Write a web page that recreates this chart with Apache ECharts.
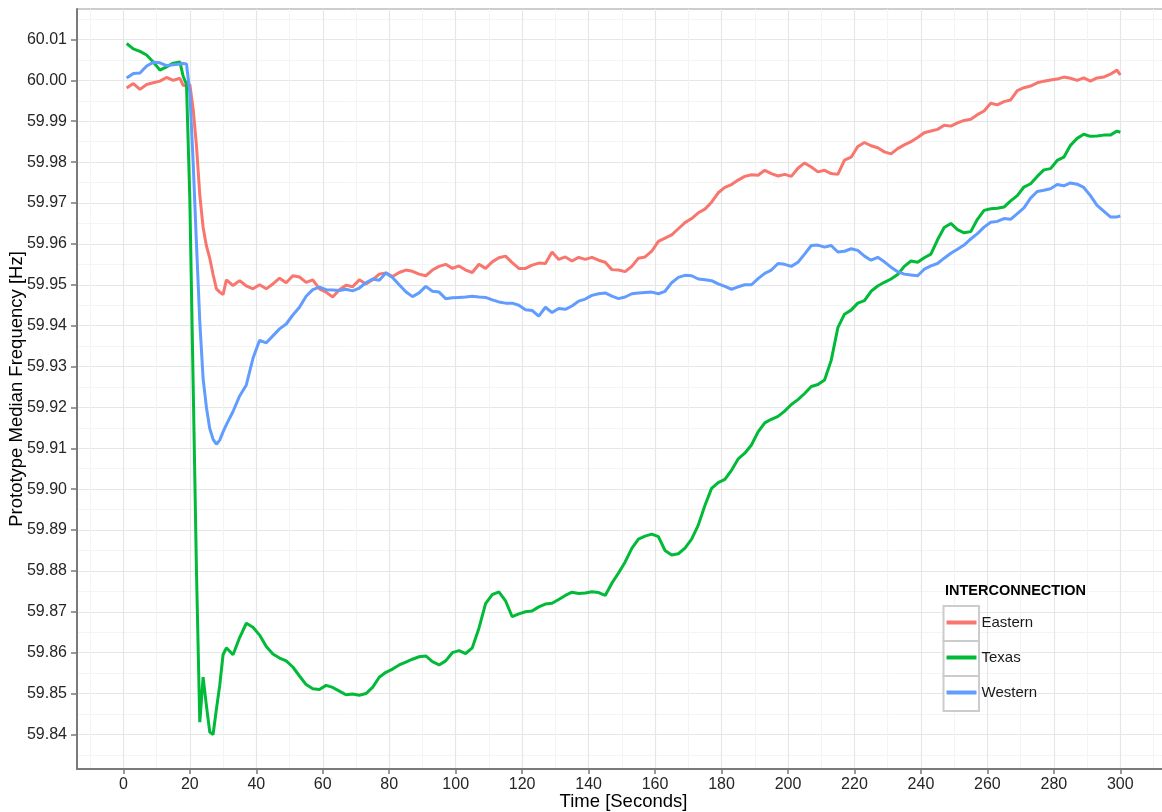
<!DOCTYPE html>
<html>
<head>
<meta charset="utf-8">
<title>Prototype Median Frequency</title>
<script src="https://cdn.jsdelivr.net/npm/echarts@6/dist/echarts.min.js"></script>
<style>
	html, body { margin: 0; padding: 0; background: #fff; }
	#chart { width: 1162px; height: 812px; }
</style>
</head>
<body>
<div id="chart"></div>
<script>
// time stamps (seconds) - 1s steps around the event, 2s elsewhere
var seconds = [
	1, 3, 5, 7, 9, 11, 13, 15, 17, 18,
	19, 20, 21, 22, 23, 24, 25, 26, 27, 28,
	29, 30, 31, 33, 35, 37, 39, 41, 43, 45,
	47, 49, 51, 53, 55, 57, 59, 61, 63, 65,
	67, 69, 71, 73, 75, 77, 79, 81, 83, 85,
	87, 89, 91, 93, 95, 97, 99, 101, 103, 105,
	107, 109, 111, 113, 115, 117, 119, 121, 123, 125,
	127, 129, 131, 133, 135, 137, 139, 141, 143, 145,
	147, 149, 151, 153, 155, 157, 159, 161, 163, 165,
	167, 169, 171, 173, 175, 177, 179, 181, 183, 185,
	187, 189, 191, 193, 195, 197, 199, 201, 203, 205,
	207, 209, 211, 213, 215, 217, 219, 221, 223, 225,
	227, 229, 231, 233, 235, 237, 239, 241, 243, 245,
	247, 249, 251, 253, 255, 257, 259, 261, 263, 265,
	267, 269, 271, 273, 275, 277, 279, 281, 283, 285,
	287, 289, 291, 293, 295, 297, 299, 300
];

var eastern = [
	59.9981, 59.9992, 59.9978, 59.9990, 59.9994, 59.9998, 60.0007, 60.0000, 60.0005, 59.9988,
	59.9986, 59.9990, 59.9930, 59.9840, 59.9720, 59.9640, 59.9595, 59.9565, 59.9525, 59.9490,
	59.9482, 59.9476, 59.9512, 59.9498, 59.9510, 59.9497, 59.9490, 59.9500, 59.9490, 59.9502,
	59.9516, 59.9505, 59.9522, 59.9519, 59.9506, 59.9512, 59.9490, 59.9482, 59.9470, 59.9488,
	59.9499, 59.9495, 59.9512, 59.9502, 59.9512, 59.9526, 59.9529, 59.9520, 59.9530, 59.9536,
	59.9533, 59.9526, 59.9522, 59.9536, 59.9545, 59.9550, 59.9540, 59.9546, 59.9536, 59.9530,
	59.9550, 59.9540, 59.9556, 59.9566, 59.9570, 59.9554, 59.9540, 59.9540, 59.9548, 59.9553,
	59.9552, 59.9580, 59.9562, 59.9568, 59.9558, 59.9567, 59.9562, 59.9567, 59.9560, 59.9555,
	59.9537, 59.9536, 59.9532, 59.9545, 59.9565, 59.9568, 59.9582, 59.9606, 59.9614, 59.9622,
	59.9637, 59.9652, 59.9662, 59.9676, 59.9685, 59.9702, 59.9725, 59.9738, 59.9745, 59.9756,
	59.9765, 59.9769, 59.9768, 59.9780, 59.9772, 59.9766, 59.9770, 59.9765, 59.9785, 59.9798,
	59.9788, 59.9776, 59.9780, 59.9772, 59.9770, 59.9805, 59.9812, 59.9838, 59.9848, 59.9840,
	59.9835, 59.9825, 59.9820, 59.9833, 59.9842, 59.9850, 59.9860, 59.9872, 59.9876, 59.9880,
	59.9890, 59.9888, 59.9896, 59.9902, 59.9905, 59.9916, 59.9925, 59.9944, 59.9940, 59.9948,
	59.9952, 59.9975, 59.9982, 59.9986, 59.9994, 59.9998, 60.0001, 60.0003, 60.0008, 60.0005,
	60.0000, 60.0006, 59.9998, 60.0006, 60.0008, 60.0015, 60.0025, 60.0013
];

var texas = [
	60.0090, 60.0077, 60.0071, 60.0062, 60.0045, 60.0025, 60.0033, 60.0042, 60.0045, 60.0010,
	59.9990, 59.9710, 59.9260, 59.8800, 59.8430, 59.8540, 59.8470, 59.8406, 59.8400, 59.8462,
	59.8520, 59.8595, 59.8612, 59.8595, 59.8637, 59.8672, 59.8662, 59.8643, 59.8615, 59.8597,
	59.8587, 59.8580, 59.8565, 59.8543, 59.8522, 59.8512, 59.8510, 59.8520, 59.8515, 59.8506,
	59.8497, 59.8499, 59.8496, 59.8500, 59.8515, 59.8540, 59.8552, 59.8560, 59.8570, 59.8577,
	59.8584, 59.8590, 59.8592, 59.8578, 59.8570, 59.8580, 59.8600, 59.8605, 59.8598, 59.8612,
	59.8660, 59.8720, 59.8742, 59.8749, 59.8727, 59.8688, 59.8695, 59.8700, 59.8702, 59.8712,
	59.8719, 59.8721, 59.8730, 59.8740, 59.8748, 59.8745, 59.8746, 59.8749, 59.8747, 59.8740,
	59.8770, 59.8795, 59.8822, 59.8855, 59.8878, 59.8885, 59.8890, 59.8884, 59.8850, 59.8839,
	59.8842, 59.8856, 59.8878, 59.8912, 59.8960, 59.9002, 59.9016, 59.9024, 59.9046, 59.9074,
	59.9088, 59.9108, 59.9140, 59.9162, 59.9171, 59.9178, 59.9191, 59.9207, 59.9219, 59.9234,
	59.9251, 59.9256, 59.9267, 59.9315, 59.9395, 59.9428, 59.9438, 59.9455, 59.9461, 59.9484,
	59.9497, 59.9506, 59.9514, 59.9525, 59.9545, 59.9558, 59.9555, 59.9566, 59.9575, 59.9610,
	59.9640, 59.9650, 59.9635, 59.9627, 59.9630, 59.9660, 59.9682, 59.9686, 59.9687, 59.9690,
	59.9705, 59.9718, 59.9739, 59.9747, 59.9765, 59.9781, 59.9784, 59.9804, 59.9812, 59.9841,
	59.9858, 59.9868, 59.9863, 59.9864, 59.9866, 59.9866, 59.9876, 59.9873
];

var western = [
	60.0006, 60.0017, 60.0018, 60.0035, 60.0044, 60.0043, 60.0036, 60.0038, 60.0040, 60.0041,
	60.0040, 59.9970, 59.9800, 59.9600, 59.9410, 59.9270, 59.9200, 59.9148, 59.9122, 59.9110,
	59.9120, 59.9140, 59.9158, 59.9190, 59.9228, 59.9255, 59.9320, 59.9364, 59.9358, 59.9375,
	59.9392, 59.9404, 59.9426, 59.9445, 59.9472, 59.9488, 59.9494, 59.9488, 59.9487, 59.9486,
	59.9489, 59.9485, 59.9492, 59.9505, 59.9514, 59.9511, 59.9529, 59.9518, 59.9500, 59.9483,
	59.9471, 59.9480, 59.9496, 59.9484, 59.9482, 59.9466, 59.9468, 59.9469, 59.9470, 59.9472,
	59.9470, 59.9469, 59.9463, 59.9458, 59.9455, 59.9455, 59.9450, 59.9439, 59.9437, 59.9423,
	59.9445, 59.9432, 59.9442, 59.9440, 59.9448, 59.9460, 59.9465, 59.9474, 59.9478, 59.9480,
	59.9472, 59.9466, 59.9470, 59.9478, 59.9480, 59.9481, 59.9482, 59.9478, 59.9484, 59.9505,
	59.9518, 59.9523, 59.9522, 59.9514, 59.9512, 59.9510, 59.9502, 59.9496, 59.9489, 59.9495,
	59.9500, 59.9500, 59.9515, 59.9528, 59.9536, 59.9552, 59.9550, 59.9545, 59.9555, 59.9575,
	59.9596, 59.9597, 59.9592, 59.9596, 59.9580, 59.9582, 59.9588, 59.9584, 59.9570, 59.9560,
	59.9567, 59.9556, 59.9543, 59.9532, 59.9526, 59.9524, 59.9522, 59.9538, 59.9546, 59.9552,
	59.9565, 59.9577, 59.9587, 59.9597, 59.9612, 59.9625, 59.9641, 59.9653, 59.9655, 59.9662,
	59.9660, 59.9674, 59.9688, 59.9712, 59.9728, 59.9731, 59.9735, 59.9745, 59.9742, 59.9749,
	59.9746, 59.9738, 59.9718, 59.9694, 59.9680, 59.9666, 59.9666, 59.9668
];

var xTicks = [0, 20, 40, 60, 80, 100, 120, 140, 160, 180, 200, 220, 240, 260, 280, 300];
var yTicks = [59.84, 59.85, 59.86, 59.87, 59.88, 59.89, 59.90, 59.91, 59.92, 59.93,
	59.94, 59.95, 59.96, 59.97, 59.98, 59.99, 60.00, 60.01];

var regions = ['Eastern', 'Texas', 'Western'];
var regionValues = [eastern, texas, western];
var colors = ['#F8766D', '#00BA38', '#619CFF'];

var font = '"Liberation Sans", Arial, sans-serif';

function toPairs(values) {
	return seconds.map(function (t, i) {
		return [t, values[i]];
	});
}

var series = [];
regions.map(function (name, k) {
	series.push({
		name: name,
		type: 'line',
		data: toPairs(regionValues[k]),
		showSymbol: false,
		symbol: 'none',
		lineStyle: { width: 3, color: colors[k] },
		itemStyle: { color: colors[k] },
		z: 2 + k
	});
});

// white key boxes of the legend
var keyBoxes = [0, 1, 2].map(function (k) {
	return {
		type: 'rect',
		z: 5,
		shape: { x: 943.5, y: 606 + k * 35, width: 35.5, height: 35 },
		style: { fill: '#ffffff', stroke: '#cccccc', lineWidth: 2 }
	};
});

var chart = echarts.init(document.getElementById('chart'));

chart.setOption({
	animation: false,
	backgroundColor: '#ffffff',
	textStyle: { fontFamily: font },
	color: colors,
	title: {
		text: 'INTERCONNECTION',
		left: 945,
		top: 583,
		padding: 0,
		textStyle: { fontFamily: font, fontSize: 14.5, fontWeight: 'bold', color: '#000000' }
	},
	legend: {
		data: regions,
		orient: 'vertical',
		left: 946.5,
		top: 614.5,
		padding: 0,
		itemWidth: 30,
		itemHeight: 4,
		itemGap: 19,
		icon: 'rect',
		z: 10,
		textStyle: { fontFamily: font, fontSize: 15, lineHeight: 16, color: '#1a1a1a' }
	},
	graphic: { elements: keyBoxes },
	grid: {
		left: 77,
		right: -8,
		top: 9,
		bottom: 43,
		containLabel: false,
		outerBoundsMode: 'none',
		show: true,
		backgroundColor: '#ffffff',
		borderColor: '#9a9a9a',
		borderWidth: 1
	},
	xAxis: {
		type: 'value',
		min: -13.95,
		max: 314.95,
		minInterval: 20,
		maxInterval: 20,
		name: 'Time [Seconds]',
		nameLocation: 'middle',
		nameGap: 23,
		nameMoveOverlap: false,
		nameTextStyle: { fontFamily: font, fontSize: 18.5, color: '#000000' },
		axisLine: { show: true, onZero: false, lineStyle: { color: '#7a7a7a', width: 2 } },
		axisTick: { show: true, length: 5, customValues: xTicks, lineStyle: { color: '#7a7a7a', width: 1.5 } },
		axisLabel: {
			customValues: xTicks,
			margin: 8,
			fontFamily: font,
			fontSize: 16,
			color: '#262626'
		},
		splitLine: { show: true, lineStyle: { color: '#e6e6e6', width: 1.2 } },
		minorTick: { show: false, splitNumber: 2 },
		minorSplitLine: { show: true, lineStyle: { color: '#f4f4f4', width: 1 } }
	},
	yAxis: {
		type: 'value',
		min: 59.83155,
		max: 60.01745,
		minInterval: 0.01,
		maxInterval: 0.01,
		name: 'Prototype Median Frequency [Hz]',
		nameLocation: 'middle',
		nameGap: 51,
		nameMoveOverlap: false,
		nameTextStyle: { fontFamily: font, fontSize: 18.5, color: '#000000' },
		axisLine: { show: true, onZero: false, lineStyle: { color: '#7a7a7a', width: 2 } },
		axisTick: { show: true, length: 6, customValues: yTicks, lineStyle: { color: '#7a7a7a', width: 1.5 } },
		axisLabel: {
			customValues: yTicks,
			margin: 10,
			fontFamily: font,
			fontSize: 16,
			color: '#262626',
			formatter: function (v) {
				return v.toFixed(2);
			}
		},
		splitLine: { show: true, lineStyle: { color: '#e6e6e6', width: 1.2 } },
		minorTick: { show: false, splitNumber: 2 },
		minorSplitLine: { show: true, lineStyle: { color: '#f4f4f4', width: 1 } }
	},
	series: series
});
</script>
</body>
</html>
